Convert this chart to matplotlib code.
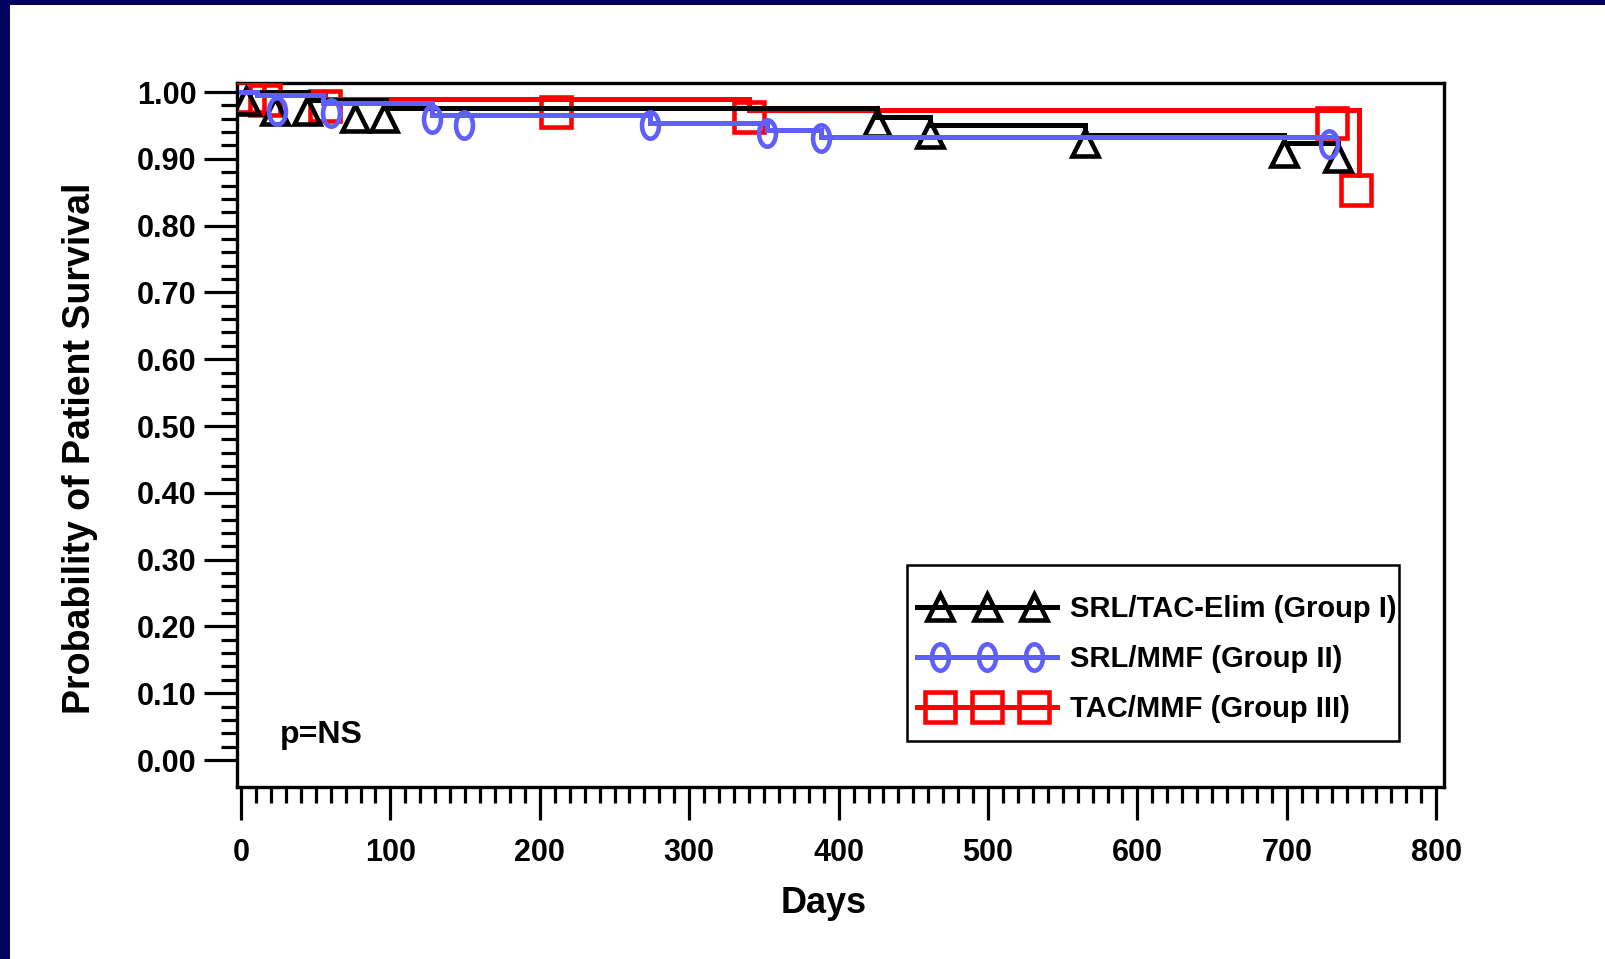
import numpy as np
import matplotlib
matplotlib.use("Agg")
import matplotlib.pyplot as plt
from matplotlib.path import Path
from matplotlib.lines import Line2D
from matplotlib.legend_handler import HandlerLine2D, HandlerTuple
from matplotlib.ticker import MultipleLocator, FixedLocator, FormatStrFormatter
import matplotlib.patches as mpatches

# ---------------- data ----------------
group_labels = ["SRL/TAC-Elim (Group I)", "SRL/MMF (Group II)", "TAC/MMF (Group III)"]

# Group I  (black, triangles)
g1_step_days = [0, 45, 97, 426, 461, 565, 698, 734]
g1_step_surv = [1.000, 0.988, 0.976, 0.963, 0.951, 0.936, 0.923, 0.923]
g1_mark_days = [3, 23, 44, 76, 96, 426, 461, 565, 698, 734]
g1_mark_surv = [0.986, 0.972, 0.972, 0.961, 0.961, 0.954, 0.937, 0.924, 0.909, 0.901]

# Group II (blue, circles)
g2_step_days = [0, 11, 55, 128, 274, 352, 388, 732]
g2_step_surv = [1.000, 0.995, 0.983, 0.965, 0.954, 0.943, 0.932, 0.932]
g2_mark_days = [24, 60, 128, 149, 274, 352, 388, 728]
g2_mark_surv = [0.972, 0.968, 0.960, 0.951, 0.950, 0.938, 0.931, 0.922]

# Group III (red, squares)
g3_step_days = [0, 56, 340, 748]
g3_step_surv = [1.000, 0.989, 0.973, 0.876]
g3_mark_days = [5, 16, 56, 211, 340, 730, 746]
g3_mark_surv = [0.992, 0.988, 0.979, 0.970, 0.962, 0.954, 0.854]

x_label = "Days"
y_label = "Probability of Patient Survival"
p_text = "p=NS"

# ---------------- styling ----------------
BLACK = "#000000"
BLUE = "#5F5FFF"
RED = "#FF0000"
NAVY = "#02025E"
FONT = ["Liberation Sans", "DejaVu Sans"]
plt.rcParams["font.family"] = FONT
plt.rcParams["font.weight"] = "bold"

W, H = 1606, 959
fig = plt.figure(figsize=(W / 100, H / 100), dpi=100)
fig.patch.set_facecolor("white")

ax_l, ax_r, ax_t, ax_b = 237, 1444, 83, 787
ax = fig.add_axes([ax_l / W, 1 - ax_b / H, (ax_r - ax_l) / W, (ax_b - ax_t) / H])

# ellipse marker for group II
th = np.linspace(0, 2 * np.pi, 60)
ellipse = Path(np.column_stack([0.64 * np.cos(th), np.sin(th)]), closed=True)

lw = 3.6
mew = 3.3
TRI_MS, ELL_MS, SQ_MS = 19, 19, 21
ax.step(g3_step_days, g3_step_surv, where="post", color=RED, lw=lw, zorder=3, solid_joinstyle="miter")
ax.plot(g3_mark_days, g3_mark_surv, ls="none", marker="s", ms=SQ_MS, mfc="none", mec=RED, mew=mew, zorder=3)
ax.step(g1_step_days, g1_step_surv, where="post", color=BLACK, lw=lw, zorder=4, solid_joinstyle="miter")
ax.plot(g1_mark_days, g1_mark_surv, ls="none", marker="^", ms=TRI_MS, mfc="none", mec=BLACK, mew=mew, zorder=4)
ax.step(g2_step_days, g2_step_surv, where="post", color=BLUE, lw=lw, zorder=5, solid_joinstyle="miter")
ax.plot(g2_mark_days, g2_mark_surv, ls="none", marker=ellipse, ms=ELL_MS, mfc="none", mec=BLUE, mew=mew, zorder=5)

# axes limits and ticks
ax.set_xlim(-2.7, 805.2)
ax.set_ylim(-0.0404, 1.0135)
ax.xaxis.set_major_locator(MultipleLocator(100))
ax.xaxis.set_minor_locator(MultipleLocator(10))
ax.yaxis.set_major_locator(FixedLocator(np.round(np.arange(0, 1.0001, 0.1), 2)))
ax.yaxis.set_minor_locator(FixedLocator(np.round(np.arange(0, 1.0001, 0.02), 2)))
ax.yaxis.set_major_formatter(FormatStrFormatter("%.2f"))

for s in ax.spines.values():
    s.set_linewidth(2.4)
    s.set_color(BLACK)

ax.tick_params(axis="both", which="both", direction="out", colors=BLACK, width=2.3)
ax.tick_params(axis="both", which="major", length=24, labelsize=22)
ax.tick_params(axis="both", which="minor", length=11.5)
ax.tick_params(axis="x", which="major", pad=13)
ax.tick_params(axis="y", which="major", pad=5)
for lab in ax.get_xticklabels() + ax.get_yticklabels():
    lab.set_fontweight("bold")

ax.set_xlabel(x_label, fontsize=26, fontweight="bold", va="center")
ax.xaxis.set_label_coords(0.4863, -0.1660)
ax.set_ylabel(y_label, fontsize=27, fontweight="bold", va="center")
ax.yaxis.set_label_coords(-0.1300, 0.4815)

ax.text(0.0356, 0.0739, p_text, transform=ax.transAxes, fontsize=23, fontweight="bold",
        ha="left", va="center")

# legend: full-width line + three markers overlaid
styles = [
    (BLACK, "^", TRI_MS),
    (BLUE, ellipse, ELL_MS),
    (RED, "s", SQ_MS),
]
handles = []
hmap = {}
for col, mk, ms in styles:
    ln = Line2D([], [], color=col, lw=lw)
    mks = Line2D([], [], ls="none", marker=mk, ms=ms, mfc="none", mec=col, mew=mew)
    hmap[ln] = HandlerLine2D(marker_pad=0.0, numpoints=2)
    hmap[mks] = HandlerLine2D(marker_pad=0.8, numpoints=3)
    handles.append((ln, mks))
hmap[tuple] = HandlerTuple(ndivide=1, pad=0)

leg = fig.legend(handles, group_labels, loc="center left",
                 bbox_to_anchor=(917 / W, 1 - 659 / H), bbox_transform=fig.transFigure,
                 borderaxespad=0, handlelength=4.8, handletextpad=0.45,
                 borderpad=0, labelspacing=0.76, frameon=False,
                 prop={"weight": "bold", "size": 21}, handler_map=hmap)
fig.patches.append(mpatches.Rectangle((907 / W, 1 - 741 / H), (1399 - 907) / W, (741 - 565) / H,
                                      transform=fig.transFigure, facecolor="none",
                                      edgecolor=BLACK, lw=1.8, zorder=10))

# navy frame strips (top and left)
fig.patches.append(mpatches.Rectangle((0, 0), 10 / W, 1, transform=fig.transFigure,
                                      facecolor=NAVY, edgecolor="none", zorder=0))
fig.patches.append(mpatches.Rectangle((0, 1 - 5 / H), 1, 5 / H, transform=fig.transFigure,
                                      facecolor=NAVY, edgecolor="none", zorder=0))

fig.savefig("out.png", dpi=100, facecolor="white")
